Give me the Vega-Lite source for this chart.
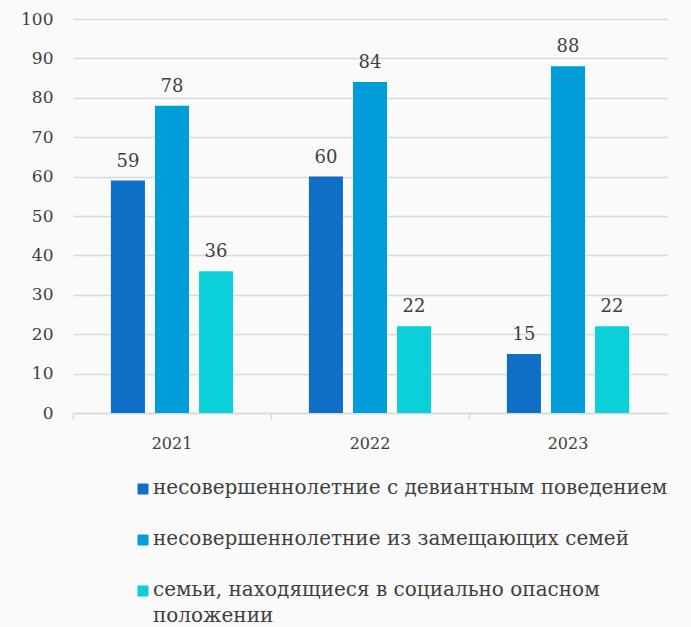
{
  "$schema": "https://vega.github.io/schema/vega-lite/v6.json",
  "width": 594,
  "height": 394,
  "autosize": {"type": "none"},
  "padding": {"left": 73, "top": 19, "right": 24, "bottom": 214},
  "background": "#fafafa",
  "config": {"view": {"stroke": null}, "font": "DejaVu Serif"},
  "data": {
    "values": [
      {"year": "2021", "category": "несовершеннолетние с девиантным поведением", "value": 59},
      {"year": "2021", "category": "несовершеннолетние из замещающих семей", "value": 78},
      {"year": "2021", "category": "семьи, находящиеся в социально опасном положении", "value": 36},
      {"year": "2022", "category": "несовершеннолетние с девиантным поведением", "value": 60},
      {"year": "2022", "category": "несовершеннолетние из замещающих семей", "value": 84},
      {"year": "2022", "category": "семьи, находящиеся в социально опасном положении", "value": 22},
      {"year": "2023", "category": "несовершеннолетние с девиантным поведением", "value": 15},
      {"year": "2023", "category": "несовершеннолетние из замещающих семей", "value": 88},
      {"year": "2023", "category": "семьи, находящиеся в социально опасном положении", "value": 22}
    ]
  },
  "encoding": {
    "xOffset": {
      "field": "category", "type": "nominal",
      "sort": ["несовершеннолетние с девиантным поведением", "несовершеннолетние из замещающих семей", "семьи, находящиеся в социально опасном положении"],
      "scale": {"paddingInner": 0.227, "paddingOuter": 0.86}
    },
    "y": {
      "field": "value", "type": "quantitative",
      "scale": {"domain": [0, 100]},
      "axis": {
        "title": null, "values": [0, 10, 20, 30, 40, 50, 60, 70, 80, 90, 100],
        "domain": false, "ticks": false, "labelPadding": 20,
        "labelFont": "DejaVu Serif", "labelFontSize": 17, "labelColor": "#404040",
        "gridColor": "#d9d9d9", "gridWidth": 1.3
      }
    }
  },
  "resolve": {"axis": {"x": "independent"}},
  "layer": [
    {
      "mark": {"type": "bar"},
      "encoding": {
        "x": {
          "field": "year", "type": "nominal",
          "scale": {"paddingInner": 0, "paddingOuter": 0},
          "axis": {
            "title": null, "labelAngle": 0, "ticks": false, "grid": false, "orient": "bottom",
            "domainColor": "#d9d9d9", "domainWidth": 1.5,
            "labelPadding": 22, "labelFont": "DejaVu Serif", "labelFontSize": 16, "labelColor": "#404040"
          }
        },
        "color": {
          "field": "category", "type": "nominal",
          "sort": ["несовершеннолетние с девиантным поведением", "несовершеннолетние из замещающих семей", "семьи, находящиеся в социально опасном положении"],
          "scale": {"range": ["#0f6fc6", "#009dd9", "#0bd0d9"]},
          "legend": {
            "orient": "none", "legendX": 60, "legendY": 460, "direction": "vertical",
            "title": null, "padding": 0, "symbolType": "square", "symbolSize": 121,
            "symbolStrokeWidth": 0, "labelFont": "DejaVu Serif", "labelFontSize": 20,
            "labelColor": "#404040", "labelLimit": 700, "labelOffset": 0, "rowPadding": 31,
            "labelBaseline": "top",
            "labelExpr": "datum.label == 'семьи, находящиеся в социально опасном положении' ? ['семьи, находящиеся в социально опасном', 'положении'] : datum.label",
            "encoding": {"labels": {"dy": {"value": -11}, "lineHeight": {"value": 26}}}
          }
        }
      }
    },
    {
      "mark": {"type": "text", "baseline": "alphabetic", "dy": -14, "fontSize": 18, "font": "DejaVu Serif", "fill": "#404040"},
      "encoding": {
        "x": {
          "field": "year", "type": "nominal",
          "scale": {"paddingInner": 0, "paddingOuter": 0},
          "axis": {
            "title": null, "labels": false, "domain": false, "grid": false, "orient": "bottom",
            "ticks": true, "bandPosition": 0, "tickSize": 6, "tickColor": "#d9d9d9", "tickWidth": 1.5
          }
        },
        "text": {"field": "value", "type": "quantitative"}
      }
    }
  ]
}
